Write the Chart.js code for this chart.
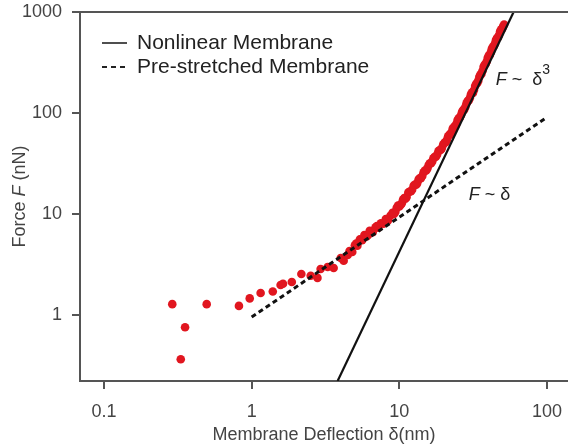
<!DOCTYPE html>
<html>
<head>
<meta charset="utf-8">
<style>
  html, body { margin: 0; padding: 0; background: #fff; }
  #wrap { width: 568px; height: 447px; }
</style>
<script src="https://cdn.jsdelivr.net/npm/chart.js@4/dist/chart.umd.min.js"></script>
</head>
<body>
<div id="wrap"><canvas id="chart" width="568" height="447"></canvas></div>
<script>
// Measured force vs. membrane deflection (nm, nN)
const deflection = [
  0.29, 0.354, 0.331, 0.496, 0.82, 0.97, 1.15, 1.39, 1.57, 1.63,
  1.87, 2.17, 2.51, 2.79, 2.93, 3.27, 3.59, 4.01, 4.2, 4.47,
  4.6, 4.8, 5.0, 5.2, 5.4, 5.6, 5.8, 6.0, 6.3, 6.6,
  6.9, 7.2, 7.5, 7.8, 8.1, 8.4, 8.7, 9.0, 9.4, 9.8,
  10.2, 10.6, 11.0, 11.5, 12.0, 12.5, 13.0, 13.5, 14.0, 14.6,
  15.2, 15.8, 16.4, 17.0, 17.7, 18.4, 19.1, 19.8, 20.6, 21.4,
  22.2, 23.0, 23.9, 24.8, 25.7, 26.6, 27.5, 28.5, 29.5, 30.5,
  31.5, 32.6, 33.7, 34.8, 36.0, 37.2, 38.4, 39.7, 41.0, 42.3,
  43.7, 45.1, 46.6, 48.1, 49.6, 51.2,
  5.1, 6.15, 7.05, 8.25, 9.2, 9.6, 10.0,
  10.4, 10.8, 11.2, 11.7, 12.2, 12.7, 13.2, 13.7, 14.3, 14.9,
  15.5, 16.1, 16.7, 17.3, 18.0, 18.7, 19.4, 20.2, 21.0, 21.8,
  22.6, 23.45, 24.35, 25.25, 26.15, 27.05, 28.0, 29.0, 30.0, 31.0,
  32.05, 33.15, 34.25, 35.4, 36.6, 37.8, 39.05, 40.35, 41.65, 43.0,
  44.4, 45.85, 47.35, 48.85, 50.4
];
const force = [
  1.28, 0.755, 0.364, 1.28, 1.23, 1.46, 1.65, 1.71, 1.98, 2.04,
  2.12, 2.55, 2.45, 2.33, 2.85, 2.99, 2.92, 3.67, 3.45, 3.93,
  4.3, 4.2, 4.9, 4.85, 5.6, 5.5, 6.2, 6.0, 6.8, 6.6,
  7.4, 7.3, 8.1, 8.0, 8.9, 8.7, 9.6, 10.3, 10.5, 12.1,
  12.3, 13.9, 14.2, 16.3, 16.8, 19.0, 19.5, 21.9, 22.6, 25.9,
  27.0, 30.6, 31.8, 35.6, 37.0, 41.8, 43.2, 48.6, 51.3, 58.9,
  61.8, 70.2, 74.0, 85.0, 90.1, 103, 108, 125, 133, 152,
  158, 185, 198, 228, 244, 287, 305, 353, 376, 433,
  460, 527, 560, 642, 680, 750,
  5.1, 6.2, 7.6, 8.5, 10.0, 11.5, 11.9,
  12.8, 14.4, 14.7, 16.6, 17.4, 19.5, 20.1, 22.5, 23.8, 26.9,
  28.3, 31.7, 33.1, 36.6, 38.6, 42.8, 44.9, 50.7, 54.2, 61.0,
  64.9, 72.8, 78.1, 88.5, 95.0, 107, 115, 131, 140, 159,
  169, 195, 209, 240, 262, 300, 323, 371, 398, 453,
  486, 551, 592, 670, 718
];

// Model lines: nonlinear membrane (F ~ δ^3) and pre-stretched membrane (F ~ δ)
const nonlinearDeflection = [3.82, 59.4];
const nonlinearForce = [0.222, 1000];
const prestretchDeflection = [1, 100];
const prestretchForce = [0.955, 91];

// Axis ranges and decade ticks
const xRange = [0.0688, 138.7];
const yRange = [0.222, 1000];
const xTicks = [0.1, 1, 10, 100];
const yTicks = [1, 10, 100, 1000];

const FONT = '"Liberation Sans", Arial, sans-serif';
const AXIS_COLOR = '#555';
const TEXT_COLOR = '#444';

const zip = (xs, ys) => xs.map((x, i) => ({ x: x, y: ys[i] }));

// Extra drawing: top frame line, rotated y title with italic F, legend, slope labels
const decorations = {
  id: 'decorations',
  afterDraw(chart) {
    const ctx = chart.ctx;
    const area = chart.chartArea;
    const xs = chart.scales.x, ys = chart.scales.y;

    ctx.save();
    // top frame line
    ctx.strokeStyle = AXIS_COLOR;
    ctx.lineWidth = 2;
    ctx.beginPath();
    ctx.moveTo(area.left, area.top);
    ctx.lineTo(area.right, area.top);
    ctx.stroke();

    const run = (pieces, x, y) => {
      let cx = x;
      pieces.forEach(p => {
        ctx.font = p[1];
        ctx.fillText(p[0], cx, y + (p[2] || 0));
        cx += ctx.measureText(p[0]).width;
      });
      return cx - x;
    };
    const widthOf = (pieces) => pieces.reduce((w, p) => { ctx.font = p[1]; return w + ctx.measureText(p[0]).width; }, 0);

    // y-axis title
    const normal = '18px ' + FONT, italic = 'italic 18px ' + FONT;
    const yTitle = [['Force ', normal], ['F', italic], [' (nN)', normal]];
    ctx.fillStyle = TEXT_COLOR;
    ctx.textBaseline = 'middle';
    ctx.textAlign = 'left';
    ctx.translate(20, (area.top + area.bottom) / 2);
    ctx.rotate(-Math.PI / 2);
    run(yTitle, -widthOf(yTitle) / 2, 0);
    ctx.setTransform(1, 0, 0, 1, 0, 0);

    // legend
    ctx.fillStyle = '#222';
    ctx.strokeStyle = '#222';
    ctx.font = '21px ' + FONT;
    const lx = area.left + 22, ly1 = area.top + 31, ly2 = area.top + 55;
    ctx.lineWidth = 1.6;
    ctx.setLineDash([]);
    ctx.beginPath(); ctx.moveTo(lx, ly1); ctx.lineTo(lx + 25, ly1); ctx.stroke();
    ctx.lineWidth = 2;
    ctx.setLineDash([5, 4]);
    ctx.beginPath(); ctx.moveTo(lx, ly2); ctx.lineTo(lx + 26, ly2); ctx.stroke();
    ctx.setLineDash([]);
    ctx.fillText('Nonlinear Membrane', lx + 35, ly1);
    ctx.fillText('Pre-stretched Membrane', lx + 35, ly2);

    // slope labels
    ctx.textBaseline = 'alphabetic';
    const supFont = '14px ' + FONT;
    run([['F', italic], [' ~  ', normal], ['δ', normal], ['3', supFont, -11]],
        xs.getPixelForValue(44.9), ys.getPixelForValue(189));
    run([['F', italic], [' ~ ', normal], ['δ', normal]],
        xs.getPixelForValue(29.5), ys.getPixelForValue(13.8));
    ctx.restore();
  }
};

new Chart(document.getElementById('chart'), {
  type: 'scatter',
  data: {
    datasets: [
      {
        label: 'Pre-stretched Membrane',
        data: zip(prestretchDeflection, prestretchForce),
        showLine: true,
        borderColor: '#111',
        borderWidth: 3,
        borderDash: [5, 3.5],
        pointRadius: 0
      },
      {
        label: 'Nonlinear Membrane',
        data: zip(nonlinearDeflection, nonlinearForce),
        showLine: true,
        borderColor: '#111',
        borderWidth: 2.2,
        pointRadius: 0
      },
      {
        label: 'Measured',
        data: zip(deflection, force),
        showLine: false,
        pointRadius: 4.3,
        pointBorderWidth: 0,
        backgroundColor: '#e1161f',
        borderColor: '#e1161f'
      }
    ]
  },
  options: {
    responsive: false,
    animation: false,
    devicePixelRatio: 1,
    layout: { autoPadding: false, padding: { top: 12, right: 0, left: 0, bottom: 0 } },
    plugins: { legend: { display: false }, tooltip: { enabled: false } },
    scales: {
      x: {
        type: 'logarithmic',
        position: 'bottom',
        min: xRange[0],
        max: xRange[1],
        afterBuildTicks: s => { s.ticks = xTicks.map(v => ({ value: v })); },
        afterFit: s => { s.height = 66; s.paddingLeft = 0; s.paddingRight = 0; },
        ticks: {
          autoSkip: false,
          maxRotation: 0,
          padding: 12,
          color: TEXT_COLOR,
          font: { family: FONT, size: 18 },
          callback: v => String(v)
        },
        grid: { drawOnChartArea: false, drawTicks: true, tickLength: 8, color: AXIS_COLOR, lineWidth: 2 },
        border: { display: true, color: AXIS_COLOR, width: 2 },
        title: {
          display: true,
          text: 'Membrane Deflection δ(nm)',
          color: TEXT_COLOR,
          font: { family: FONT, size: 18 },
          padding: { top: 0, bottom: 1 }
        }
      },
      y: {
        type: 'logarithmic',
        position: 'left',
        min: yRange[0],
        max: yRange[1],
        afterBuildTicks: s => { s.ticks = yTicks.map(v => ({ value: v })); },
        afterFit: s => { s.width = 80; s.paddingTop = 0; s.paddingBottom = 0; },
        ticks: {
          autoSkip: false,
          padding: 10,
          color: TEXT_COLOR,
          font: { family: FONT, size: 18 },
          callback: v => String(v)
        },
        grid: { drawOnChartArea: false, drawTicks: true, tickLength: 8, color: AXIS_COLOR, lineWidth: 2 },
        border: { display: true, color: AXIS_COLOR, width: 2 }
      }
    }
  },
  plugins: [decorations]
});
</script>
</body>
</html>
